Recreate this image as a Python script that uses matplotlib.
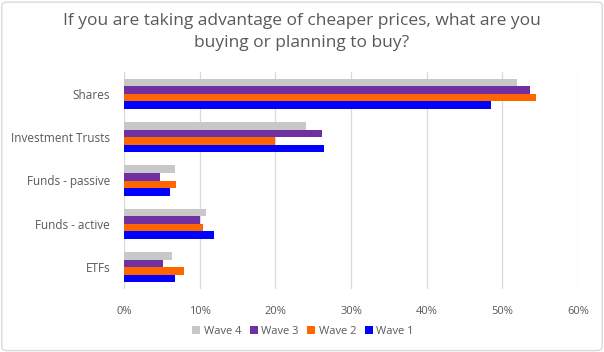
import numpy as np
import matplotlib.pyplot as plt
from matplotlib.patches import FancyBboxPatch

# -----------------------------
# Data
categories = ['Shares', 'Investment Trusts', 'Funds - passive', 'Funds - active', 'ETFs']
wave4 = [51.9, 24.1, 6.7, 10.9, 6.3]
wave3 = [53.7, 26.2, 4.7, 10.0, 5.1]
wave2 = [54.4, 19.9, 6.9, 10.5, 7.9]
wave1 = [48.5, 26.4, 6.1, 11.9, 6.7]
series_names = ['Wave 4', 'Wave 3', 'Wave 2', 'Wave 1']
xticks = [0, 10, 20, 30, 40, 50, 60]

plt.rcParams['font.family'] = ['Open Sans', 'DejaVu Sans']

fig = plt.figure(figsize=(6.04, 3.52), dpi=100)
ax = fig.add_axes([124 / 604, 1 - 289 / 352, (578 - 124) / 604, (289 - 72) / 352])

# outer chart border
fig.patches.append(FancyBboxPatch((0.003, 0.004), 0.994, 0.99, boxstyle='round,pad=0,rounding_size=0.01',
                                  transform=fig.transFigure, fill=False, edgecolor='#D9D9D9', linewidth=1))

y = np.arange(len(categories))
h = 0.173
series = [wave4, wave3, wave2, wave1]
colors = ['#C0C0C0', '#7030A0', '#FF6600', '#0000FF']
offsets = [-1.5 * h, -0.5 * h, 0.5 * h, 1.5 * h]

plt.rcParams['hatch.color'] = '#A6A6A6'
plt.rcParams['hatch.linewidth'] = 0.4
for vals, col, off, name in zip(series, colors, offsets, series_names):
    if name == 'Wave 4':
        ax.barh(y + off, vals, height=h, color='#C8C8C8', hatch='.....', edgecolor='#C8C8C8',
                linewidth=0, label=name)
    else:
        ax.barh(y + off, vals, height=h, color=col, label=name)

ax.set_ylim(len(categories) - 0.5, -0.5)
ax.set_xlim(0, 60)
ax.set_xticks(xticks)
ax.set_xticklabels([f'{t}%' for t in xticks])
ax.set_yticks(y)
ax.set_yticklabels(categories)
ax.tick_params(axis='both', length=0, colors='#595959', labelsize=8.5)
ax.tick_params(axis='x', labelsize=8, pad=12)
ax.tick_params(axis='y', pad=10)
ax.grid(axis='x', color='#D9D9D9', linewidth=0.9)
ax.set_axisbelow(True)
for s in ax.spines.values():
    s.set_visible(False)

fig.text(0.5, 1 - 32 / 352, 'If you are taking advantage of cheaper prices, what are you\nbuying or planning to buy?',
         ha='center', va='center', fontsize=12.5, color='#595959', linespacing=1.45)

ax.legend(loc='center', bbox_to_anchor=(303 / 604, 1 - 331 / 352), bbox_transform=fig.transFigure,
          ncol=4, frameon=False, fontsize=8, labelcolor='#595959', handlelength=0.7, handleheight=0.7,
          handletextpad=0.3, columnspacing=0.8)

fig.savefig('out.png', dpi=100)
